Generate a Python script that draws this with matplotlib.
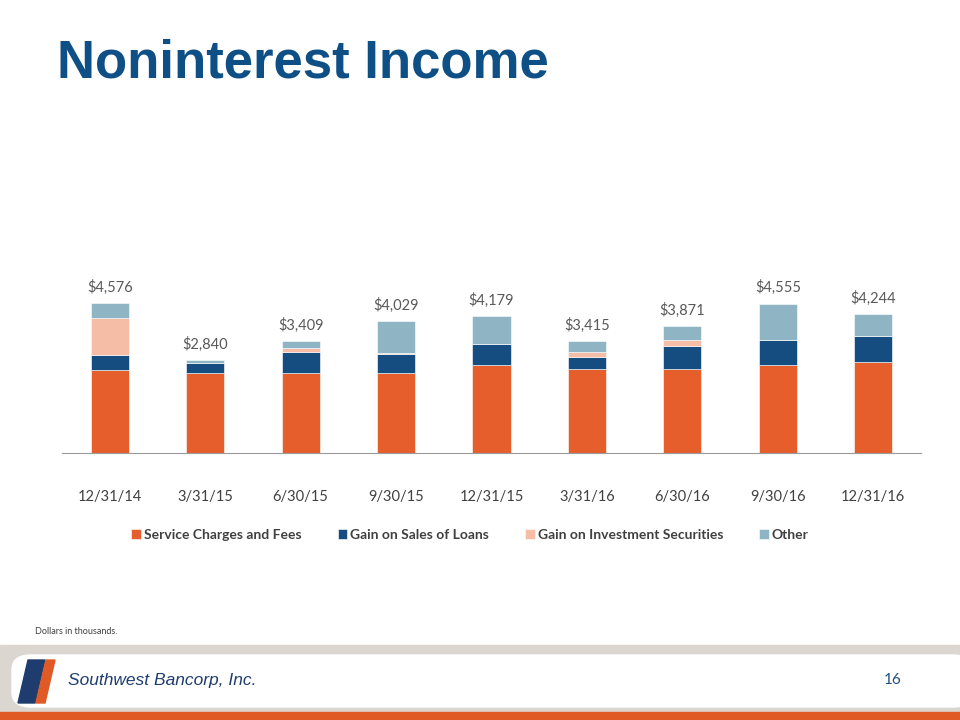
import matplotlib.pyplot as plt
import matplotlib.patches as mpatches
import numpy as np

quarters = ['12/31/14', '3/31/15', '6/30/15', '9/30/15', '12/31/15',
            '3/31/16', '6/30/16', '9/30/16', '12/31/16']
service_fees = [2520, 2440, 2430, 2440, 2680, 2555, 2555, 2670, 2775]
loan_gains = [480, 300, 655, 570, 640, 375, 700, 780, 780]
security_gains = [1110, 0, 130, 30, 0, 135, 200, 0, 0]
other = [466, 100, 194, 989, 859, 350, 416, 1105, 689]
totals = [4576, 2840, 3409, 4029, 4179, 3415, 3871, 4555, 4244]

series = [
    ('Service Charges and Fees', service_fees, '#E55E2B'),
    ('Gain on Sales of Loans', loan_gains, '#164D80'),
    ('Gain on Investment Securities', security_gains, '#F6BDA6'),
    ('Other', other, '#8FB5C4'),
]

fig = plt.figure(figsize=(9.6, 7.2), dpi=100)
ax = fig.add_axes([62 / 960, 1 - 453 / 720, 859 / 960, 164 / 720])

x = np.arange(len(quarters))
bottom = np.zeros(len(quarters))
for name, vals, col in series:
    ax.bar(x, vals, width=0.4, bottom=bottom, color=col, label=name,
           edgecolor='#ffffff', linewidth=0.4)
    bottom += np.array(vals)

for xi, t in zip(x, totals):
    ax.annotate('${:,}'.format(t), (xi, t), xytext=(0, 6), textcoords='offset points',
                ha='center', va='bottom', fontsize=10.5, color='#595959', family='Lato')

ax.set_xlim(-0.5, len(quarters) - 0.5)
ax.set_ylim(0, 5000)
ax.set_yticks([])
ax.set_xticks(x)
ax.set_xticklabels(quarters, fontsize=10.5, color='#404040', family='Lato')
ax.tick_params(axis='x', length=0, pad=27)
for s in ['top', 'right', 'left']:
    ax.spines[s].set_visible(False)
ax.spines['bottom'].set_color('#9a9a9a')

leg = fig.legend(loc='center', bbox_to_anchor=(470 / 960, 1 - 535 / 720), ncol=4,
                 frameon=False, handlelength=0.7, handleheight=0.7, handletextpad=0.2,
                 columnspacing=2.6, prop={'family': 'Lato', 'weight': 'bold', 'size': 10})
for t in leg.get_texts():
    t.set_color('#404040')

fig.text(57 / 960, 1 - 63 / 720, 'Noninterest Income', fontsize=38, weight='bold',
         color='#0E4F85', family='Liberation Sans', va='center')

fig.text(35 / 960, 1 - 632 / 720, 'Dollars in thousands.', fontsize=6.5,
         color='#404040', va='center', family='Lato')

# footer band
fig.patches.append(mpatches.Rectangle((0, 0), 1, 75 / 720, transform=fig.transFigure,
                                      color='#DCD6D0', zorder=0))
fig.patches.append(mpatches.FancyBboxPatch((12 / 960, 13 / 720), 960 / 960, 52 / 720,
                                           boxstyle='round,pad=0,rounding_size=0.02',
                                           transform=fig.transFigure, color='white', zorder=1))
fig.patches.append(mpatches.Rectangle((0, 0), 1, 8 / 720, transform=fig.transFigure,
                                      color='#E05A26', zorder=2))
# logo mark
fig.patches.append(mpatches.Polygon([(18 / 960, 1 - 703 / 720), (28 / 960, 1 - 660 / 720),
                                     (45 / 960, 1 - 660 / 720), (35 / 960, 1 - 703 / 720)],
                                    closed=True, transform=fig.transFigure,
                                    color='#1E3D6E', zorder=3))
fig.patches.append(mpatches.Polygon([(36 / 960, 1 - 703 / 720), (46 / 960, 1 - 660 / 720),
                                     (55 / 960, 1 - 660 / 720), (45 / 960, 1 - 703 / 720)],
                                    closed=True, transform=fig.transFigure,
                                    color='#E05A26', zorder=3))
fig.text(68 / 960, 1 - 681 / 720, 'Southwest Bancorp, Inc.', fontsize=12.5, style='italic',
         color='#1E3D6E', va='center', family='Liberation Sans')
fig.text(893 / 960, 1 - 680 / 720, '16', fontsize=11, color='#1E4F85', ha='center',
         va='center', family='Lato')

fig.savefig('out.png', dpi=100)
